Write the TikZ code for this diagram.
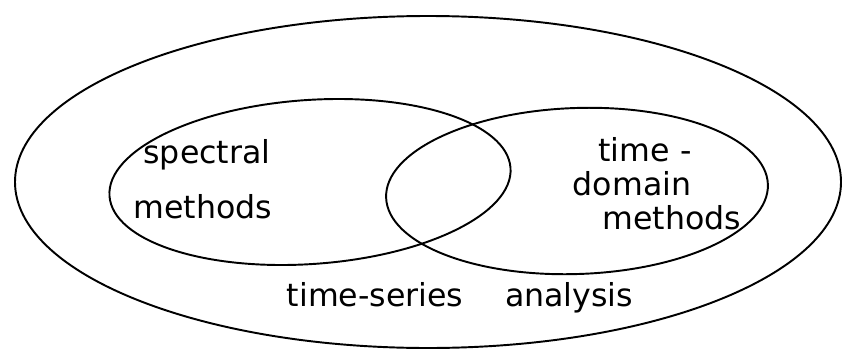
\documentclass[tikz,border=0pt]{standalone}
\usepackage{fontspec}
\setmainfont{DejaVu Sans}
\begin{document}
\begin{tikzpicture}[x=0.02cm,y=-0.02cm,
  ring/.style={draw=black,line width=1.1pt},
  lbl/.style={font=\fontsize{18}{22}\selectfont,inner sep=0pt,align=center}]
\useasboundingbox (0,0) rectangle (851,355);
\draw[ring] (428,182) ellipse [x radius=413, y radius=166];
\draw[ring,rotate around={4:(310,182)}] (310,182) ellipse [x radius=201, y radius=82];
\draw[ring,rotate around={2:(577,191)}] (577,191) ellipse [x radius=191, y radius=83];
\node[lbl] (spec) at (207,155) {spectral};
\node[lbl] (specm) at (203,207) {methods};
\node[lbl] (time) at (645,150) {time -};
\node[lbl] (dom) at (632,184) {domain};
\node[lbl] (tdm) at (672,218) {methods};
\node[lbl] (tsa) at (460,298) {time-series\quad\ analysis};
\end{tikzpicture}
\end{document}
